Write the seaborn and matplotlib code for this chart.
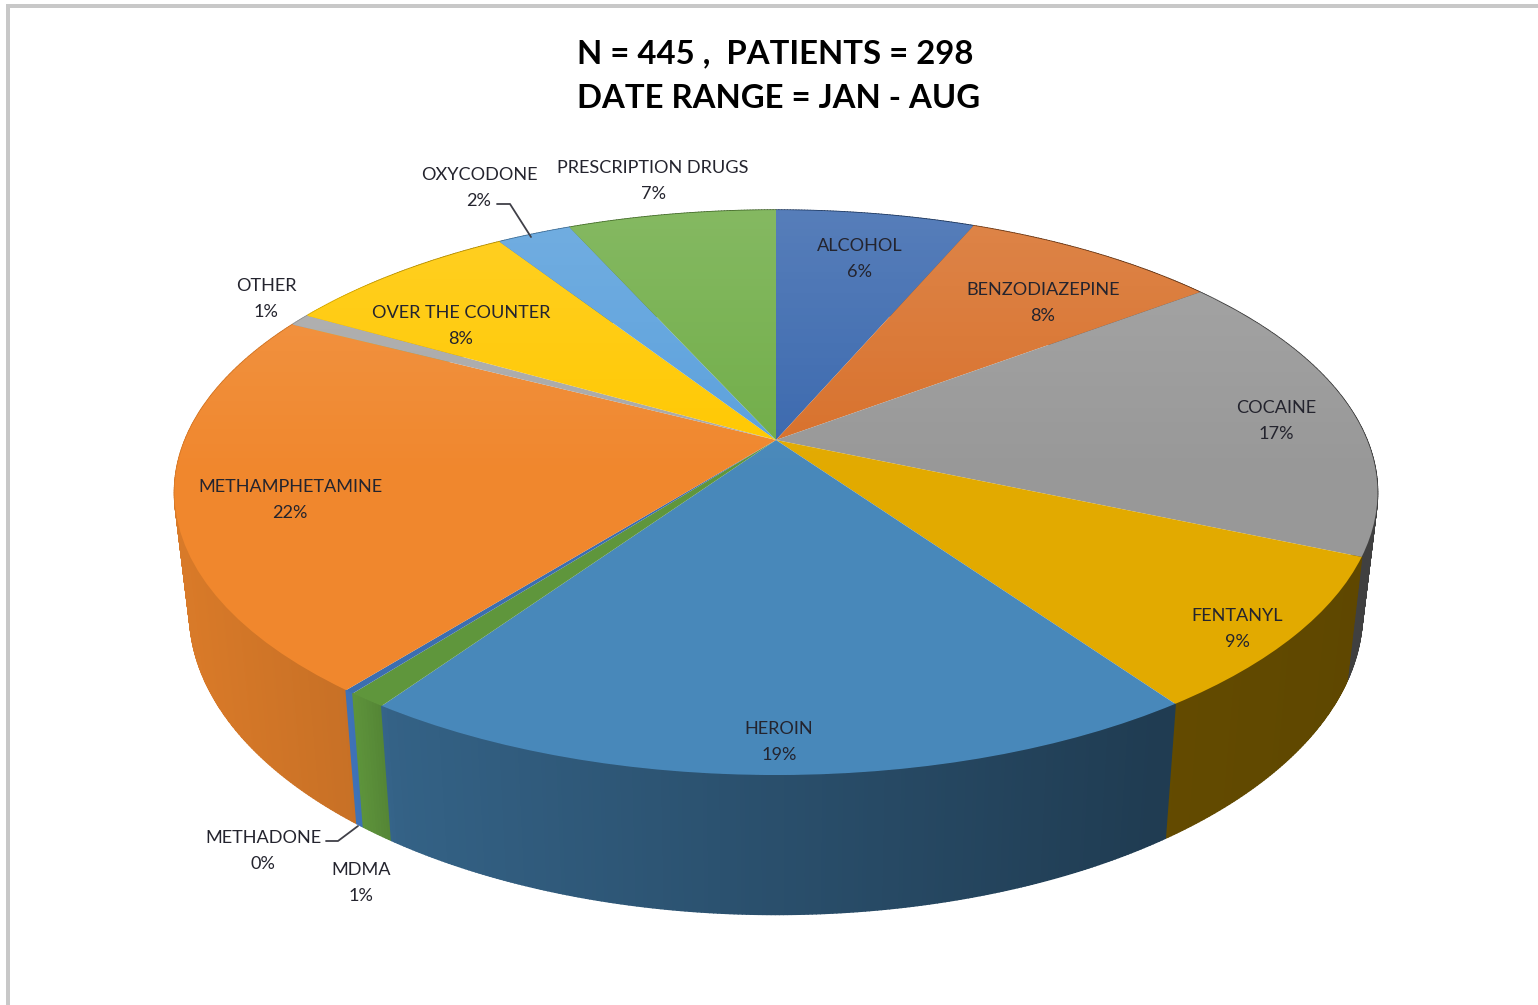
import numpy as np
import matplotlib
matplotlib.use("Agg")
import matplotlib.pyplot as plt
from matplotlib.collections import PolyCollection
from matplotlib.colors import to_rgb
from matplotlib.lines import Line2D
from matplotlib.patches import Circle, Rectangle
from matplotlib.transforms import Transform
import seaborn as sns

# ---- data ----
drugs = ["ALCOHOL", "BENZODIAZEPINE", "COCAINE", "FENTANYL", "HEROIN", "MDMA",
         "METHADONE", "METHAMPHETAMINE", "OTHER", "OVER THE COUNTER",
         "OXYCODONE", "PRESCRIPTION DRUGS"]
shares = [6.4, 8.3, 16.8, 8.8, 19.25, 0.9, 0.22, 21.93, 0.7, 7.6, 2.4, 6.7]
title_lines = ["N = 445 ,  PATIENTS = 298", "DATE RANGE = JAN - AUG"]

# ---- styles and layout ----
slice_colors = ["#3A68AE", "#D8702A", "#989898", "#E2AA00", "#4888BA", "#5F963C",
                "#3C6EB0", "#F0872D", "#A8A8A8", "#FFC800", "#5AA0DC", "#70AD47"]
side_gain = [1, 1, 1, 1, 1, 1.2, 1.25, 1, 1, 1, 1, 1]
label_centres = [(860, 259), (1043, 303), (1276, 421), (1237, 629), (779, 742),
                 (361, 883), (263, 851), (290, 500), (266, 299), (461, 326),
                 (479, 188), (653, 181)]

sns.set_theme(style="white")
plt.rcParams["font.family"] = ["Lato", "DejaVu Sans"]


class Perspective(Transform):
    """Maps the unit pie disc to picture pixels, tilted in perspective."""
    input_dims = output_dims = 2
    is_separable = False

    def __init__(self, cx, cy, sx, sy, k=0.186):
        super().__init__()
        self.cx, self.cy, self.sx, self.sy, self.k = cx, cy, sx, sy, k

    def transform_non_affine(self, values):
        v = np.asarray(values, dtype=float)
        w = 1 + self.k * v[:, 1]
        return np.column_stack([self.cx + self.sx * v[:, 0] / w,
                                self.cy - self.sy * v[:, 1] / w])


fig = plt.figure(figsize=(15.38, 10.05), dpi=100, facecolor="white")
ax = fig.add_axes([0, 0, 1, 1])

top_proj = Perspective(776, 440, 591, 272.7)
low_proj = Perspective(776, 556, 591 * 0.975, 272.7 * 1.07)

# side wall, drawn first as thin shaded strips under the top face
edges = 90 - 360 * np.concatenate([[0], np.cumsum(shares)]) / np.sum(shares)
quads, quad_colors, quad_depth = [], [], []
for i, col in enumerate(slice_colors):
    n = max(2, int(abs(edges[i + 1] - edges[i]) * 3) + 1)
    th = np.radians(np.linspace(edges[i], edges[i + 1], n + 1))
    rim = np.column_stack([np.cos(th), np.sin(th)])
    up = top_proj.transform_non_affine(rim)
    lo = low_proj.transform_non_affine(rim)
    for j in range(n):
        quads.append([up[j], up[j + 1], lo[j + 1], lo[j]])
        xm = (up[j, 0] + up[j + 1, 0]) / 2
        shade = np.interp(xm, [190, 350, 390, 1160, 1350], [0.90, 0.83, 0.72, 0.44, 0.42])
        quad_colors.append(tuple(np.clip(np.array(to_rgb(col)) * shade * side_gain[i], 0, 1)))
        quad_depth.append((lo[j, 1] + lo[j + 1, 1]) / 2)
order = np.argsort(quad_depth)
ax.add_collection(PolyCollection([quads[o] for o in order],
                                 facecolors=[quad_colors[o] for o in order],
                                 edgecolors=[quad_colors[o] for o in order],
                                 linewidths=1.1, zorder=1))

# top face
wedges, _ = ax.pie(shares, colors=slice_colors, startangle=90, counterclock=False,
                   radius=1, wedgeprops={"linewidth": 0})
for w in wedges:
    w.set_transform(top_proj + ax.transData)
    w.set_zorder(2)
    w.set_clip_on(False)

# soft light falling off toward the front of the top face
grad = np.ones((256, 2, 4))
grad[:, :, 3] = np.linspace(0.15, 0.0, 256)[:, None]
glow = ax.imshow(grad, extent=(150, 1400, 480, 205), aspect="auto", zorder=3,
                 interpolation="bilinear")
disc = Circle((0, 0), 1, transform=top_proj + ax.transData)
glow.set_clip_path(disc)

ax.set_aspect("auto")
ax.set_xlim(0, 1538)
ax.set_ylim(1005, 0)
ax.axis("off")

# picture frame
frame = "#C8C8C8"
ax.add_patch(Rectangle((6, 4), 1532, 3.5, fc=frame, ec="none", zorder=0))
ax.add_patch(Rectangle((6, 4), 4, 1001, fc=frame, ec="none", zorder=0))

# leader lines
for xs, ys in [([497, 510, 531], [204, 204, 237]), ([326, 338, 358], [841, 841, 826])]:
    ax.add_line(Line2D(xs, ys, color="#404048", lw=1.3, zorder=4))

# labels
for name, val, (x, y) in zip(drugs, shares, label_centres):
    ax.text(x, y, f"{name}\n{round(val)}%", ha="center", va="center", fontsize=13.1,
            color="#24242E", linespacing=1.7, zorder=5)

ax.text(775, 54, title_lines[0], ha="center", va="center", fontsize=23.7,
        fontweight="bold", color="#000000", zorder=5)
ax.text(779, 98, title_lines[1], ha="center", va="center", fontsize=23.7,
        fontweight="bold", color="#000000", zorder=5)

fig.savefig("out.png", dpi=100, facecolor="white")
